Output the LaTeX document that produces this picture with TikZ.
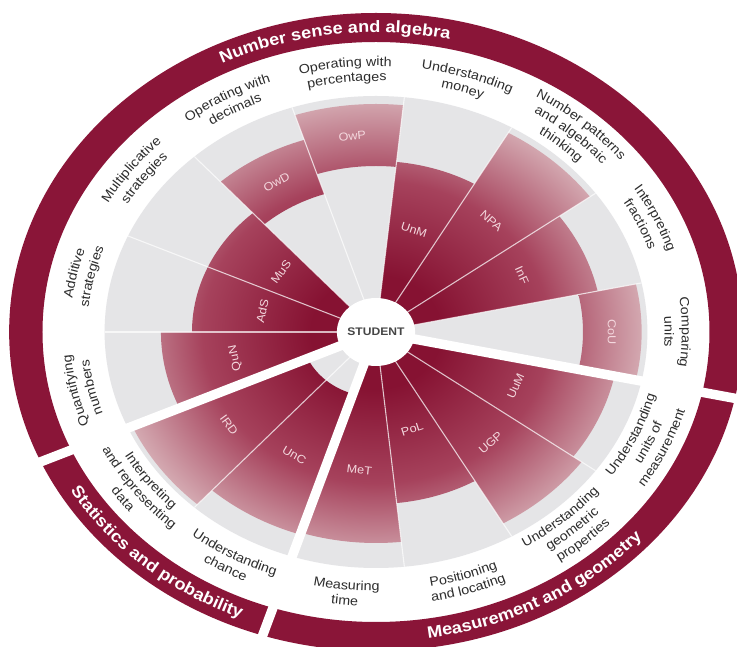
\documentclass[tikz,border=0pt]{standalone}
\usepackage{fontspec}
\setmainfont{Liberation Sans}[FakeStretch=1.1]
\usetikzlibrary{decorations.text}
\definecolor{bandred}{RGB}{138,21,56}
\definecolor{wdark}{RGB}{134,18,50}
\definecolor{wmid}{RGB}{166,66,92}
\definecolor{wlight}{RGB}{214,174,181}
\definecolor{bggray}{RGB}{229,229,231}
\definecolor{labcol}{RGB}{45,45,45}
\definecolor{abbcol}{RGB}{244,216,222}
\definecolor{stucol}{RGB}{70,70,70}
\pgfdeclareradialshading{wedgeshade}{\pgfpoint{0bp}{0bp}}{color(0bp)=(wdark); color(6bp)=(wdark); color(16bp)=(wmid); color(25bp)=(wlight); color(50bp)=(wlight)}
\newcommand\LabFont{\fontsize{13}{15}\selectfont}
\newcommand\TitFont{\fontsize{16.5}{18}\selectfont\bfseries}
\newcommand\TopLab[3]{%
  \path[decorate, decoration={text along path, text align=center, text color=labcol, text={|\LabFont|#3}}]
    ({#1+35}:#2) arc[start angle={#1+35}, end angle={#1-35}, radius=#2];}
\newcommand\BotLab[3]{%
  \path[decorate, decoration={text along path, text align=center, text color=labcol, text={|\LabFont|#3}}]
    ({#1-35}:#2) arc[start angle={#1-35}, end angle={#1+35}, radius=#2];}
\newcommand\Wedge[4]{%
  \begin{scope}
    \clip (#1:#3) arc[start angle=#1, end angle=#2, radius=#3] -- (#2:#4) arc[start angle=#2, end angle=#1, radius=#4] -- cycle;
    \shade[shading=wedgeshade] (0,0) circle[radius=236];
  \end{scope}}
\tikzset{
  abbr/.style={text=abbcol, font=\fontsize{11.5}{13}\selectfont, inner sep=0pt},
  sepline/.style={draw=white, draw opacity=0.7, line width=1.1pt},
  gapline/.style={draw=white, line width=9.5pt},
  stu/.style={text=stucol, font=\fontsize{11}{13}\selectfont\bfseries, inner sep=0pt}
}
\begin{document}
\begin{tikzpicture}[x=1.15pt,y=1pt]
\useasboundingbox ({-376/1.15},-315) rectangle ({361/1.15},332);
\fill[white] ({-376/1.15},-315) rectangle ({361/1.15},332);
% outer band
\fill[bandred, even odd rule] (0,0) circle[radius=319] (0,0) circle[radius=290];
% grey disc
\fill[bggray] (0,0) circle[radius=236];
% wedges
\Wedge{180}{204}{10}{187}
\Wedge{156}{180}{10}{160}
\Wedge{132}{156}{10}{160}
\Wedge{108}{132}{145}{202}
\Wedge{84}{108}{166}{228}
\Wedge{60}{84}{10}{171}
\Wedge{36}{60}{10}{230}
\Wedge{12}{36}{10}{197}
\Wedge{-12}{12}{180}{231}
\Wedge{324}{348}{10}{212}
\Wedge{300}{324}{10}{221}
\Wedge{276}{300}{10}{172}
\Wedge{252}{276}{10}{211}
\Wedge{228}{252}{65}{213}
\Wedge{204}{228}{65}{232}
% separators
\foreach \a in {12,36,60,84,108,132,156,180,228,276,300,324}
  \draw[sepline] (\a:30) -- (\a:236);
% domain gaps
\foreach \a in {-12,204,252}
  \draw[gapline] (0,0) -- (\a:345);
% centre
\fill[white] (0,0) circle[radius=34];
\node[stu] (student) at (0,0) {STUDENT};
% abbreviations
\node[abbr, rotate=102] (quN) at (192:125) {QuN};
\node[abbr, rotate=78] (adS) at (168:101) {AdS};
\node[abbr, rotate=54] (muS) at (144:102) {MuS};
\node[abbr, rotate=30] (owD) at (120:173) {OwD};
\node[abbr, rotate=6] (owP) at (96:197) {OwP};
\node[abbr, rotate=-18] (unM) at (72:107) {UnM};
\node[abbr, rotate=-42] (npA) at (48:150) {NPA};
\node[abbr, rotate=-66] (inF) at (24:139) {InF};
\node[abbr, rotate=-90] (coU) at (0:205) {CoU};
\node[abbr, rotate=66] (uuM) at (336:133) {UuM};
\node[abbr, rotate=42] (ugP) at (312:149) {UGP};
\node[abbr, rotate=18] (poL) at (288:102) {PoL};
\node[abbr, rotate=-6] (meT) at (264:139) {MeT};
\node[abbr, rotate=-30] (unC) at (240:142) {UnC};
\node[abbr, rotate=-54] (irD) at (216:158) {IRD};
% skill labels
\TopLab{192}{266}{Quantifying}\TopLab{192}{251}{numbers}
\TopLab{168}{266}{Additive}\TopLab{168}{251}{strategies}
\TopLab{144}{266}{Multiplicative}\TopLab{144}{251}{strategies}
\TopLab{120}{266}{Operating with}\TopLab{120}{251}{decimals}
\TopLab{96}{266}{Operating with}\TopLab{96}{251}{percentages}
\TopLab{72}{266}{Understanding}\TopLab{72}{251}{money}
\TopLab{48}{273}{Number patterns}\TopLab{48}{258.5}{and algebraic}\TopLab{48}{244}{thinking}
\TopLab{24}{266}{Interpreting}\TopLab{24}{251}{fractions}
\TopLab{0}{266}{Comparing}\TopLab{0}{251}{units}
\BotLab{336}{251}{Understanding}\BotLab{336}{265.5}{units of}\BotLab{336}{280}{measurement}
\BotLab{312}{251}{Understanding}\BotLab{312}{265.5}{geometric}\BotLab{312}{280}{properties}
\BotLab{288}{259}{Positioning}\BotLab{288}{274}{and locating}
\BotLab{264}{259}{Measuring}\BotLab{264}{274}{time}
\BotLab{240}{259}{Understanding}\BotLab{240}{274}{chance}
\BotLab{216}{251}{Interpreting}\BotLab{216}{265.5}{and representing}\BotLab{216}{280}{data}
% domain titles
\path[decorate, decoration={text along path, text align=center, text color=white, text={|\TitFont|Number sense and algebra}}]
  (178:299.5) arc[start angle=178, end angle=18, radius=299.5];
\path[decorate, decoration={text along path, text align=center, text color=white, text={|\TitFont|Statistics and probability}}]
  (188:309.5) arc[start angle=188, end angle=268, radius=309.5];
\path[decorate, decoration={text along path, text align=center, text color=white, text={|\TitFont|Measurement and geometry}}]
  (250:309.5) arc[start angle=250, end angle=350, radius=309.5];
\end{tikzpicture}
\end{document}
